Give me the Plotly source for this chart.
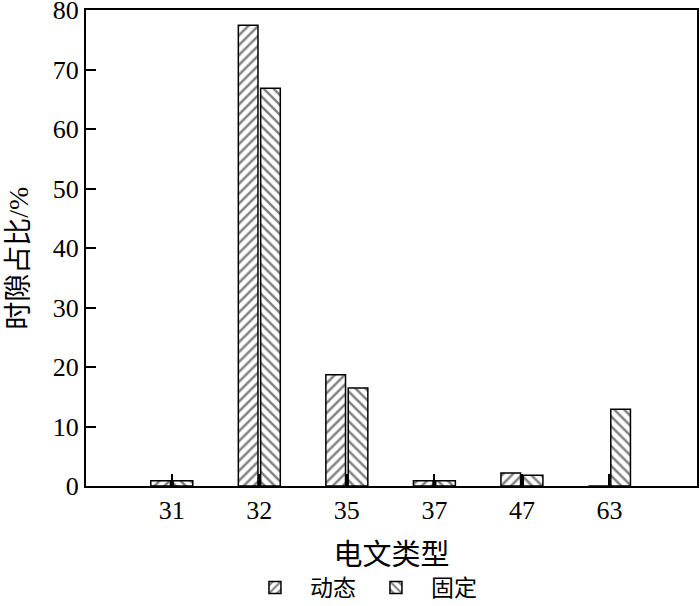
import plotly.graph_objects as go

categories = ["31", "32", "35", "37", "47", "63"]
dynamic_vals = [0.9, 77.5, 18.7, 0.9, 2.2, 0.0]
fixed_vals = [0.9, 66.9, 16.5, 0.9, 1.8, 12.9]
y_ticks = [0, 10, 20, 30, 40, 50, 60, 70, 80]

FONT = "Liberation Serif, Times New Roman, Noto Sans CJK SC, serif"

fig = go.Figure()
fig.add_trace(go.Bar(
    x=categories, y=dynamic_vals, name="动态",
    marker=dict(color="white", line=dict(color="black", width=1.5),
                pattern=dict(shape="/", fgcolor="black", bgcolor="white", size=7, solidity=0.35)),
))
fig.add_trace(go.Bar(
    x=categories, y=fixed_vals, name="固定",
    marker=dict(color="white", line=dict(color="black", width=1.5),
                pattern=dict(shape="\\", fgcolor="black", bgcolor="white", size=7, solidity=0.35)),
))

fig.update_layout(
    width=700, height=606,
    margin=dict(l=86, r=3, t=10, b=120, autoexpand=False),
    plot_bgcolor="white", paper_bgcolor="white",
    barmode="group", bargap=0.49, bargroupgap=0.12,
    font=dict(family=FONT, size=26, color="black"),
    showlegend=True,
    legend=dict(orientation="h", x=0.45, xanchor="center", y=-0.168, yanchor="top",
                font=dict(family=FONT, size=23), itemwidth=60, traceorder="normal"),
    annotations=[dict(
        text="时隙占比/%", textangle=-90, showarrow=False,
        xref="paper", yref="paper", x=-0.11, y=0.479,
        xanchor="center", yanchor="middle",
        font=dict(family=FONT, size=28),
    )],
)
fig.update_xaxes(
    type="category", range=[-0.98, 6.0], automargin=False,
    showline=True, linecolor="black", linewidth=2, mirror=True,
    ticks="inside", ticklen=12, tickwidth=2, tickcolor="black",
    tickfont=dict(family=FONT, size=26),
    title=dict(text="电文类型", font=dict(family=FONT, size=29), standoff=20),
    showgrid=False, zeroline=False,
)
fig.update_yaxes(
    range=[0, 80.05], tickvals=y_ticks, automargin=False,
    ticklabeloverflow="allow",
    showline=True, linecolor="black", linewidth=2, mirror=True,
    ticks="inside", ticklen=10, tickwidth=2, tickcolor="black",
    tickfont=dict(family=FONT, size=26),
    showgrid=False, zeroline=False,
)

fig.write_html(
    "out.html",
    config={"displayModeBar": False},
    post_script=(
        "document.documentElement.style.margin='0';"
        "document.documentElement.style.overflow='hidden';"
        "document.body.style.margin='0';"
        "document.body.style.overflow='hidden';"
    ),
)
